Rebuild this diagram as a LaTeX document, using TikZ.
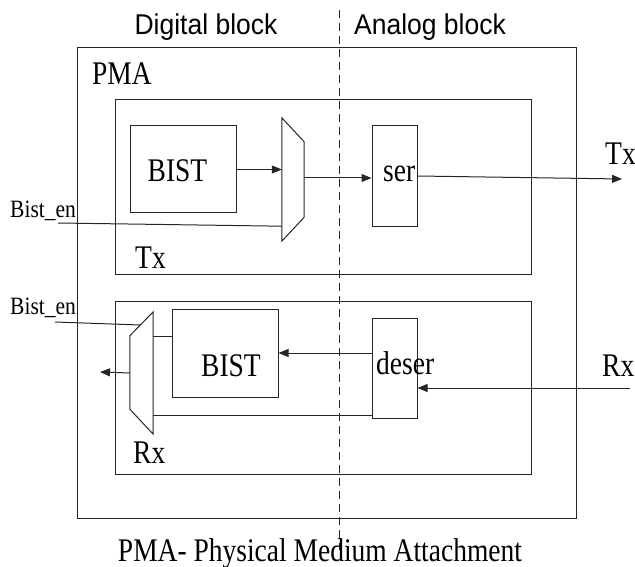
\documentclass[tikz,border=0pt]{standalone}
\usepackage{fontspec}
\setmainfont{Liberation Serif}
\newfontfamily\sansfam{Liberation Sans}
\usetikzlibrary{arrows.meta,calc}
\newcommand\vtall[2][1.2]{\scalebox{1}[#1]{#2}}
\begin{document}
\begin{tikzpicture}[x=1pt,y=-1pt,
  ln/.style={draw=black!85, line width=1pt},
  box/.style={ln, rectangle, inner sep=0pt},
  frame/.style={rectangle, inner sep=0pt, draw=none},
  arr/.style={ln, -{Triangle[length=10pt,width=8pt]}},
  lbl/.style={inner sep=0pt, anchor=base west, font=\fontsize{27.5}{30}\selectfont},
  lblc/.style={inner sep=0pt, anchor=base, font=\fontsize{27.5}{30}\selectfont},
  small/.style={inner sep=0pt, anchor=base west, font=\fontsize{21.5}{24}\selectfont},
  head/.style={inner sep=0pt, anchor=base, font=\sansfam\fontsize{26.5}{30}\selectfont},
  divider/.style={draw=black!85, line width=1pt, dash pattern=on 8pt off 5pt}
]
\useasboundingbox (0,0) rectangle (635,567);

% headings
\node[head] (hd) at (206,35) {\vtall[1.08]{Digital block}};
\node[head] (ha) at (430,35) {\vtall[1.08]{Analog block}};

% outer and inner boxes
\node[box, minimum width=499, minimum height=470] (pma) at (326.5,283) {};
\node[box, minimum width=416, minimum height=174] (txbox) at (323,187) {};
\node[box, minimum width=416, minimum height=173] (rxbox) at (323,387.5) {};

% divider
\coordinate (dtop) at (339,10);
\coordinate (dbot) at (339,550);
\draw[divider] (dtop) -- (dbot);

% labels
\node[lbl] (pmal) at (92,85) {\vtall{PMA}};
\node[lbl] (txl) at (135,268) {\vtall{Tx}};
\node[lbl] (rxl) at (133,463) {\vtall{Rx}};

% Tx path
\node[box, minimum width=106, minimum height=87] (bist1) at (183,169.5) {};
\node[lblc] (bist1l) at (177.5,182) {\vtall{BIST}};
\node[frame, minimum width=22, minimum height=123] (mux1) at (293,179.5) {};
\draw[ln, fill=white] (mux1.north west) -- ($(mux1.north east)+(0,24)$) -- ($(mux1.south east)+(0,-24)$) -- (mux1.south west) -- cycle;
\node[box, minimum width=45, minimum height=100] (ser) at (394.5,176) {};
\node[lbl] (serl) at (383,182) {\vtall{ser}};

\draw[arr] (bist1.east) -- (bist1.east -| mux1.west);
\draw[arr] ($(mux1.east)+(0,-1.5)$) -- ($(mux1.east -| ser.west)+(0,-1.5)$);
\coordinate (txout) at (622,179);
\draw[arr] (ser.east) -- (txout);
\node[lbl] (txr) at (605,165) {\vtall{Tx}};

\coordinate (bena) at (58,223);
\draw[ln] (bena) -- ($(mux1.south west)+(0,-15)$);
\node[small] (benal) at (10,218) {\vtall[1.16]{Bist\_en}};

% Rx path
\node[box, minimum width=106, minimum height=88] (bist2) at (225,353) {};
\node[lblc] (bist2l) at (231,376) {\vtall{BIST}};
\node[frame, minimum width=23, minimum height=122] (mux2) at (141.5,373) {};
\draw[ln, fill=white] (mux2.north east) -- (mux2.south east) -- ($(mux2.south west)+(0,-25)$) -- ($(mux2.north west)+(0,24)$) -- cycle;
\node[box, minimum width=45, minimum height=100] (deser) at (394.5,368) {};
\node[lbl] (deserl) at (376,374) {\vtall{deser}};

\coordinate (rxin) at (630,388);
\draw[arr] (rxin) -- (rxin -| deser.east);
\node[lbl] (rxr) at (602,376) {\vtall{Rx}};
\draw[arr] (deser.west |- bist2.east) -- (bist2.east);
\coordinate (dlow) at ($(deser.south west)+(0,-3)$);
\draw[ln] (dlow) -- (dlow -| mux2.east);
\coordinate (blow) at ($(bist2.north west)+(0,28)$);
\draw[ln] (blow) -- (blow -| mux2.east);
\coordinate (rxout) at (100,372);
\draw[arr] (mux2.west) -- (rxout);

\coordinate (benb) at (55,322);
\coordinate (benbend) at (140,325);
\draw[ln] (benb) -- (benbend);
\node[small] (benbl) at (10,314) {\vtall[1.16]{Bist\_en}};

% caption
\node[lblc] (cap) at (320,561) {\vtall{PMA- Physical Medium Attachment}};
\end{tikzpicture}
\end{document}
